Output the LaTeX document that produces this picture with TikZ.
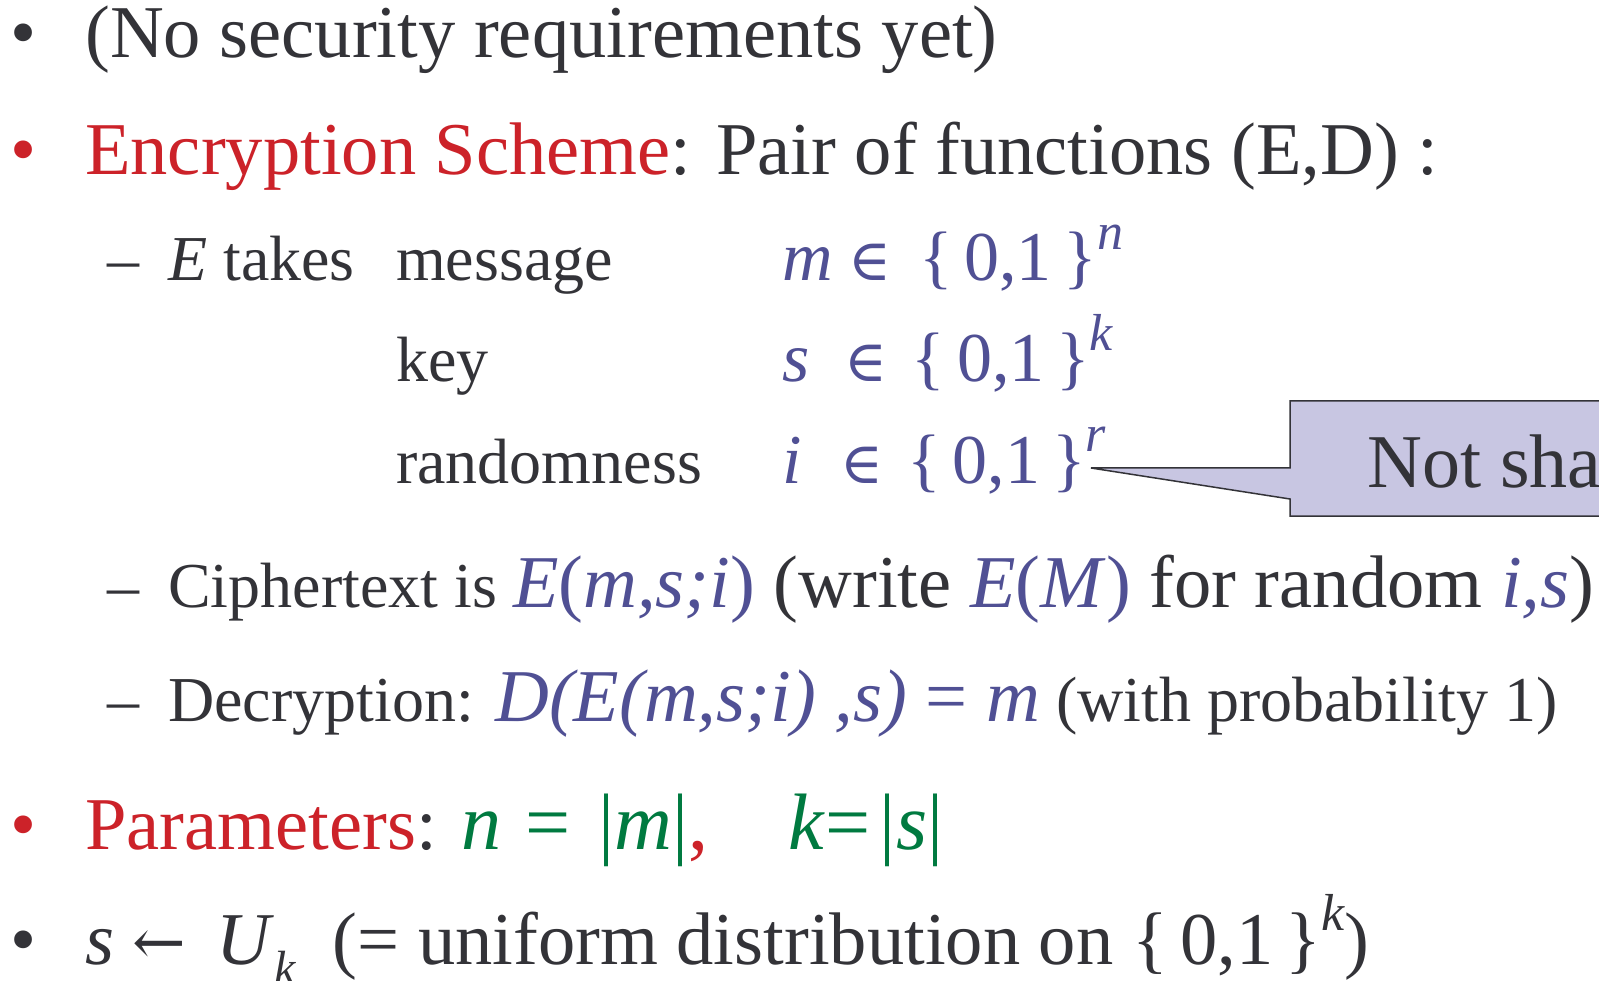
\documentclass[tikz,border=0pt]{standalone}
\usepackage{fontspec}
\setmainfont{Liberation Serif}
\newfontfamily\symfont{DejaVu Serif}
\definecolor{tgray}{RGB}{51,51,56}
\definecolor{tred}{RGB}{204,34,41}
\definecolor{tblue}{RGB}{80,80,148}
\definecolor{tgreen}{RGB}{0,122,64}
\definecolor{callfill}{RGB}{200,198,226}
\newcommand\upit[1]{\raisebox{0.45em}{\fontsize{52}{52}\selectfont\itshape #1}}
\newcommand\dnit[1]{\raisebox{-0.28em}{\fontsize{48}{48}\selectfont\itshape #1}}
\newcommand\elem{{\symfont\fontsize{58}{58}\selectfont ∈}}
\newcommand\leftarr{{\symfont\fontsize{64}{64}\selectfont ←}}
\tikzset{
  mainline/.style={anchor=base west, inner sep=0pt, text=tgray, font=\fontsize{74.5}{80}\selectfont},
  subline/.style={anchor=base west, inner sep=0pt, text=tgray, font=\fontsize{64}{72}\selectfont},
  bulletmark/.style={anchor=base west, inner sep=0pt, font=\fontsize{74.5}{80}\selectfont},
  setline/.style={anchor=base west, inner sep=0pt, text=tblue, font=\fontsize{70}{72}\selectfont},
  callout/.style={fill=callfill, draw=tgray, line width=1.5pt, line join=miter},
}
\begin{document}
\begin{tikzpicture}[x=1pt,y=-1pt]
\useasboundingbox (0,0) rectangle (1599,981);
\clip (0,0) rectangle (1599,981);
\fill[white] (0,0) rectangle (1599,981);
% line 1
\node[bulletmark,text=tgray] (b1) at (10,58) {•};
\node[mainline] (l1) at (85,58) {(No security requirements yet)};
% line 2
\node[bulletmark,text=tred] (b2) at (10,175) {•};
\node[mainline] (l2) at (85,175) {\textcolor{tred}{Encryption Scheme}: Pair of functions (E,D) :};
% line 3-5
\node[subline] (d3) at (107,281) {–};
\node[subline] (l3) at (168,281) {\textit{E} takes};
\node[subline] (w3) at (396,281) {message};
\node[setline] (m3) at (782,281) {\textit{m}\hspace{0.22em}\elem\hspace{0.4em}\{\,0,1\,\}\upit{n}};
\node[subline] (w4) at (396,382) {key};
\node[setline] (m4) at (782,382) {\textit{s}\hspace{0.5em}\elem\hspace{0.35em}\{\,0,1\,\}\upit{k}};
\node[subline] (w5) at (396,483) {randomness};
\node[setline] (m5) at (782,483) {\textit{i}\hspace{0.55em}\elem\hspace{0.35em}\{\,0,1\,\}\upit{r}};
% callout
\coordinate (tip) at (1091,468);
\draw[callout] (1290,401) -- (1630,401) -- (1630,516) -- (1290,516) -- (1290,499) -- (tip) -- (1290,468) -- cycle;
\node[anchor=base west, inner sep=0pt, text=tgray, font=\fontsize{76}{80}\selectfont] (c1) at (1367,487) {Not shared};
% line 6
\node[subline] (d6) at (107,607) {–};
\node[subline] (l6) at (168,607) {Ciphertext is {\fontsize{74.5}{80}\selectfont\textcolor{tblue}{\textit{E}(\textit{m,s;i})} (write \textcolor{tblue}{\textit{E}(\textit{M})} for random \textcolor{tblue}{\textit{i,s}})}};
% line 7
\node[subline] (d7) at (107,721) {–};
\node[subline] (l7) at (168,721) {Decryption: {\fontsize{74.5}{80}\selectfont\textcolor{tblue}{\textit{D(E(m,s;i) ,s)}\hspace{0.25em}=\hspace{0.25em}\textit{m}}} (with probability 1)};
% line 8
\node[bulletmark,text=tred] (b8) at (10,849) {•};
\node[mainline] (l8) at (85,849) {\textcolor{tred}{Parameters}: {\fontsize{80}{84}\selectfont\textcolor{tgreen}{\textit{n}\hspace{0.3em}=\hspace{0.35em}|\textit{m}|}\textcolor{tred}{,}\hspace{1.0em}\textcolor{tgreen}{\textit{k}=\hspace{0.12em}|\textit{s}|}}};
% line 9
\node[bulletmark,text=tgray] (b9) at (10,964) {•};
\node[mainline] (l9) at (85,964) {\textit{s}\hspace{0.25em}\leftarr\hspace{0.4em}\textit{U}\dnit{k}\hspace{0.5em}(= uniform distribution on \{\,0,1\,\}\upit{k})};
\end{tikzpicture}
\end{document}
